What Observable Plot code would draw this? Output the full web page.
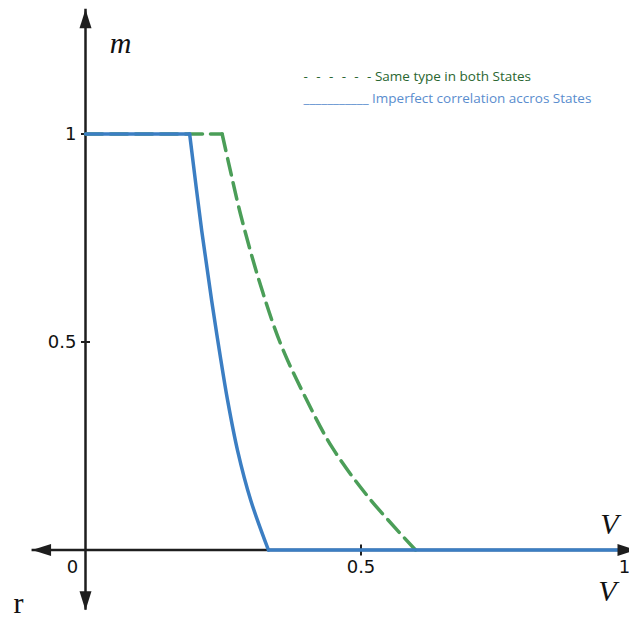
<!DOCTYPE html>
<html><head><meta charset="utf-8">
<script src="https://cdn.jsdelivr.net/npm/d3@7"></script>
<script src="https://cdn.jsdelivr.net/npm/@observablehq/plot@0.6"></script>
<style>
html,body{margin:0;padding:0;background:#fff;}
#chart svg{display:block;}
</style>
</head><body><div id="chart"></div>
<script>
// ---- Data ----
const sameV = [0, 0.248, 0.260, 0.281, 0.315, 0.354, 0.399, 0.448, 0.514, 0.599];
const sameM = [1, 1, 0.929, 0.809, 0.648, 0.496, 0.367, 0.246, 0.126, 0];
const imperfV = [0, 0.189, 0.211, 0.229, 0.243, 0.258, 0.276, 0.300, 0.332, 1];
const imperfM = [1, 1, 0.767, 0.599, 0.479, 0.359, 0.239, 0.119, 0, 0];
const xTickValues = [0.5];
const xLabelValues = [0, 0.5, 1];
const xLabelTexts = ["0", "0.5", "1"];
const yTickValues = [0.5, 1];
const yLabelTexts = ["0.5", "1"];
const legendSame = "-\u00a0\u00a0\u200a-\u00a0\u00a0\u200a-\u00a0\u00a0\u200a-\u00a0\u00a0\u200a-\u00a0\u00a0\u200a- Same type in both States";
const legendImperfect = "___________ Imperfect correlation accros States";
const xAxisExtent = [-0.097, 1];
const yAxisExtent = [-0.145, 1.3];

// ---- helpers ----
function toSegments(vs, ms) {
  const rows = []; let seg = -1, prev = null;
  for (let i = 0; i < vs.length - 1; i++) {
    const kind = ms[i] === ms[i + 1] ? "flat" : "curve";
    if (kind !== prev) { seg++; prev = kind; rows.push({v: vs[i], m: ms[i], seg}); }
    rows.push({v: vs[i + 1], m: ms[i + 1], seg});
  }
  return rows;
}
const sameRows = toSegments(sameV, sameM);
const imperfRows = toSegments(imperfV, imperfM);

const head = (dx, dy, px, py) => ({draw(ctx) {
  ctx.moveTo(0, 0);
  ctx.lineTo(dx * 19 + px * 6, dy * 19 + py * 6);
  ctx.lineTo(dx * 19 - px * 6, dy * 19 - py * 6);
  ctx.closePath();
}});
const upHead = head(0, 1, 1, 0);
const downHead = head(0, -1, 1, 0);
const leftHead = head(1, 0, 0, 1);
const rightHead = head(-1, 0, 0, 1);
const hTick = {draw(ctx) { ctx.moveTo(-4.5, 0); ctx.lineTo(4.5, 0); }};
const vTick = {draw(ctx) { ctx.moveTo(0, -5.5); ctx.lineTo(0, 5.5); }};

const axisColor = "#1e1e1e";
const blue = "#3b7ec3";
const green = "#4b9e58";
const tickFont = "DejaVu Sans, sans-serif";
const mathFont = "Liberation Serif, DejaVu Serif, serif";
const legendFont = "Open Sans, sans-serif";

const chart = Plot.plot({
  width: 629,
  height: 618,
  margin: 0,
  x: {domain: [0, 1], range: [85, 636], axis: null},
  y: {domain: [0, 1], range: [549.5, 133.5], axis: null},
  marks: [
    // axes lines
    Plot.ruleX([{v: 0, a: yAxisExtent[0], b: yAxisExtent[1]}], {x: "v", y1: "a", y2: "b", stroke: axisColor, strokeWidth: 2.5}),
    Plot.ruleY([{m: 0, a: xAxisExtent[0], b: xAxisExtent[1]}], {y: "m", x1: "a", x2: "b", stroke: axisColor, strokeWidth: 2.5}),
    // ticks
    Plot.dot(yTickValues, {x: () => 0, y: d => d, symbol: hTick, stroke: axisColor, fill: "none", strokeWidth: 2}),
    Plot.dot(xTickValues, {x: d => d, y: () => 0, symbol: vTick, stroke: axisColor, fill: "none", strokeWidth: 2}),
    // tick labels
    Plot.text(yTickValues, {x: () => 0, y: d => d, text: (d, i) => yLabelTexts[i], textAnchor: "end", lineAnchor: "middle", dx: -9, fontSize: 18, fontFamily: tickFont, fill: "#111"}),
    Plot.text(xLabelValues, {x: d => d, y: () => 0, text: (d, i) => xLabelTexts[i], filter: d => d === 0, lineAnchor: "bottom", dy: 23, dx: -13, fontSize: 18, fontFamily: tickFont, fill: "#111"}),
    Plot.text(xLabelValues, {x: d => d, y: () => 0, text: (d, i) => xLabelTexts[i], filter: d => d > 0 && d < 1, lineAnchor: "bottom", dy: 23, fontSize: 18, fontFamily: tickFont, fill: "#111"}),
    Plot.text(xLabelValues, {x: d => d, y: () => 0, text: (d, i) => xLabelTexts[i], filter: d => d === 1, lineAnchor: "bottom", dy: 23, dx: -12, fontSize: 18, fontFamily: tickFont, fill: "#111"}),
    // curves
    Plot.line(sameRows, {x: "v", y: "m", z: "seg", curve: "catmull-rom", stroke: green, strokeWidth: 3.5, strokeDasharray: "17,8"}),
    Plot.line(imperfRows, {x: "v", y: "m", z: "seg", curve: "catmull-rom", stroke: blue, strokeWidth: 3.5, strokeLinejoin: "round"}),
    // arrow heads
    Plot.dot([{v: 0, m: yAxisExtent[1]}], {x: "v", y: "m", symbol: upHead, fill: axisColor, stroke: "none"}),
    Plot.dot([{v: 0, m: yAxisExtent[0]}], {x: "v", y: "m", symbol: downHead, fill: axisColor, stroke: "none"}),
    Plot.dot([{v: xAxisExtent[0], m: 0}], {x: "v", y: "m", symbol: leftHead, fill: axisColor, stroke: "none"}),
    Plot.dot([{v: xAxisExtent[1], m: 0}], {x: "v", y: "m", symbol: rightHead, fill: axisColor, stroke: "none"}),
    // axis letters
    Plot.text(["m"], {frameAnchor: "top-left", dx: 120, dy: 52, textAnchor: "middle", lineAnchor: "bottom", fontSize: 30, fontStyle: "italic", fontFamily: mathFont, fill: "#111"}),
    Plot.text(["V"], {frameAnchor: "top-left", dx: 609, dy: 533, textAnchor: "middle", lineAnchor: "bottom", fontSize: 30, fontStyle: "italic", fontFamily: mathFont, fill: "#111"}),
    Plot.text(["V"], {frameAnchor: "top-left", dx: 607, dy: 600, textAnchor: "middle", lineAnchor: "bottom", fontSize: 30, fontStyle: "italic", fontFamily: mathFont, fill: "#111"}),
    Plot.text(["r"], {frameAnchor: "top-left", dx: 18, dy: 612, textAnchor: "middle", lineAnchor: "bottom", fontSize: 30, fontFamily: mathFont, fill: "#111"}),
    // legend
    Plot.text([legendSame], {frameAnchor: "top-left", dx: 303, dy: 80, textAnchor: "start", lineAnchor: "bottom", fontSize: 13.5, fontFamily: legendFont, fill: "#2a6630"}),
    Plot.text([legendImperfect], {frameAnchor: "top-left", dx: 303, dy: 102, textAnchor: "start", lineAnchor: "bottom", fontSize: 13.5, fontFamily: legendFont, fill: "#5a8dce"})
  ]
});
document.getElementById("chart").appendChild(chart);
</script>
</body></html>
